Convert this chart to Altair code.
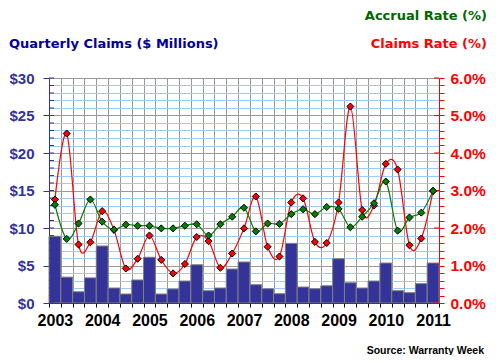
import json
import altair as alt
import pandas as pd

quarters = [f"{y}Q{q}" for y in range(2003, 2011) for q in range(1, 5)] + ["2011Q1"]
years = ["2003", "2004", "2005", "2006", "2007", "2008", "2009", "2010", "2011"]
claims = [8.9, 3.45, 1.5, 3.35, 7.6, 2.0, 1.2, 3.07, 6.1, 1.2, 1.87, 2.93, 5.1, 1.64, 2.0, 4.53,
          5.47, 2.44, 1.9, 1.24, 7.95, 2.13, 1.9, 2.3, 5.9, 2.7, 2.0, 2.93, 5.33, 1.64, 1.38, 2.58, 5.33]
claims_rate = [2.76, 4.52, 1.56, 1.62, 2.45, 1.95, 0.92, 1.18, 1.80, 1.15, 0.79, 1.04, 1.76, 1.65, 0.94, 1.32,
               1.99, 2.84, 1.50, 1.24, 2.68, 2.79, 1.63, 1.60, 2.68, 5.24, 2.48, 2.60, 3.71, 3.56, 1.54, 1.72, 2.99]
accrual_rate = [2.62, 1.71, 2.12, 2.76, 2.17, 1.96, 2.09, 2.06, 2.06, 1.99, 1.99, 2.06, 2.10, 1.80, 2.10, 2.30,
                2.54, 1.91, 2.12, 2.11, 2.37, 2.50, 2.37, 2.56, 2.51, 2.02, 2.30, 2.66, 3.24, 1.93, 2.28, 2.41, 2.99]
left_ticks = list(range(0, 31))
right_ticks = [round(i * 0.2, 1) for i in range(31)]
right_major = [0, 1, 2, 3, 4, 5, 6]

n = len(quarters)
df = pd.DataFrame({
    "quarter": quarters,
    "idx": list(range(n)),
    "claims": claims,
    "claims_rate": claims_rate,
    "accrual_rate": accrual_rate,
})
df["x0"] = df["idx"]
df["x1"] = df["idx"] + 1
df["xc"] = df["idx"] + 0.5
df["base"] = 0

W, H = 390, 225
NAVY = "#333399"
RED = "#FF0000"
GREEN = "#008000"
FONT = "Liberation Sans"
TFONT = "DejaVu Sans"

xs = alt.Scale(domain=[0, n], nice=False, zero=False)
yl = alt.Scale(domain=[0, 30], nice=False)
yr = alt.Scale(domain=[0, 6], nice=False)

year_expr = ("datum.value % 4 === 0 && datum.value < " + str(n) + " ? "
             + json.dumps(years) + "[datum.value / 4] : ''")

AX_X = dict(
    values=list(range(n + 1)), grid=True, gridColor="#999999", gridWidth=1,
    labelExpr=year_expr, labelOffset=W / n / 2, labelFlush=False, labelOverlap=False,
    labelFont=FONT, labelFontSize=16, labelFontWeight="bold", labelColor="black",
    labelPadding=5, tickSize=4, tickColor="black", domainColor="black", title=None)
AX_YL = dict(
    values=left_ticks, grid=True,
    gridColor={"condition": {"test": "datum.value % 5 === 0", "value": "#999999"}, "value": "#99CCFF"},
    tickSize={"condition": {"test": "datum.value % 5 === 0", "value": 6}, "value": 0},
    labelExpr="datum.value % 5 === 0 ? '$' + datum.value : ''", labelOverlap=False,
    labelFont=FONT, labelFontSize=15, labelFontWeight="bold", labelColor=NAVY,
    labelPadding=9, tickColor=NAVY, domainColor=NAVY, title=None)
AX_YR = dict(
    orient="right", values=right_ticks, grid=False,
    labelExpr="abs(datum.value - round(datum.value)) < 0.001 ? format(datum.value, '.1f') + '%' : ''",
    labelOverlap=False, labelFont=FONT, labelFontSize=15.5, labelFontWeight="bold", labelColor=RED,
    labelPadding=6, tickSize=5, tickColor=RED, domainColor=RED, title=None)


def X(field):
    return alt.X(field, scale=xs, axis=alt.Axis(**AX_X))


def YL(field):
    return alt.Y(field, scale=yl, axis=alt.Axis(**AX_YL))


def YR(field):
    return alt.Y(field, scale=yr, axis=alt.Axis(**AX_YR))


bars = alt.Chart(df).mark_rect(color=NAVY, stroke="#808080", strokeWidth=1).encode(
    x=X("x0:Q"), x2="x1:Q", y=YL("claims:Q"), y2="base:Q")

lt = alt.Chart(pd.DataFrame({"v": left_ticks})).mark_rule(color=NAVY, strokeWidth=1).encode(
    y=YL("v:Q"), x=alt.value(0), x2=alt.value(5))

left = alt.layer(bars, lt)

red_line = alt.Chart(df).mark_line(color=RED, strokeWidth=1.2, interpolate="cardinal", tension=0).encode(
    x=X("xc:Q"), y=YR("claims_rate:Q"))
red_pts = alt.Chart(df).mark_point(shape="diamond", filled=True, fill=RED, stroke="black", strokeWidth=1,
                                   size=50, opacity=1).encode(x=X("xc:Q"), y=YR("claims_rate:Q"))
green_line = alt.Chart(df).mark_line(color=GREEN, strokeWidth=1.2, interpolate="cardinal", tension=0).encode(
    x=X("xc:Q"), y=YR("accrual_rate:Q"))
green_pts = alt.Chart(df).mark_point(shape="diamond", filled=True, fill=GREEN, stroke="black", strokeWidth=1,
                                     size=50, opacity=1).encode(x=X("xc:Q"), y=YR("accrual_rate:Q"))
rt = alt.Chart(pd.DataFrame({"v": right_major})).mark_rule(color=RED, strokeWidth=1).encode(
    y=YR("v:Q"), x=alt.value(W - 5), x2=alt.value(W))

right = alt.layer(rt, red_line, red_pts, green_line, green_pts)


def label(txt, color, x, y, align, size, font, weight="bold"):
    return alt.Chart(pd.DataFrame({"t": [txt]})).mark_text(
        color=color, align=align, baseline="alphabetic", font=font, fontSize=size, fontWeight=weight
    ).encode(text="t:N", x=alt.value(x), y=alt.value(y))


titles = alt.layer(
    label("Quarterly Claims ($ Millions)", "#000099", -40, -30.5, "left", 13, TFONT),
    label("Accrual Rate (%)", "#006600", 438, -58.5, "right", 13, TFONT),
    label("Claims Rate (%)", RED, 438, -30.5, "right", 13, TFONT),
    label("Source: Warranty Week", "black", 435, 275.5, "right", 10.5, FONT),
)

chart = alt.layer(left, right, titles).resolve_scale(y="independent").properties(
    width=W, height=H,
    autosize=alt.AutoSizeParams(type="none"),
    padding={"left": 41, "top": 70, "right": 49, "bottom": 52},
    background="white",
).configure_view(stroke=None)

chart.save("out.html", embed_options={"renderer": "svg", "actions": False})
